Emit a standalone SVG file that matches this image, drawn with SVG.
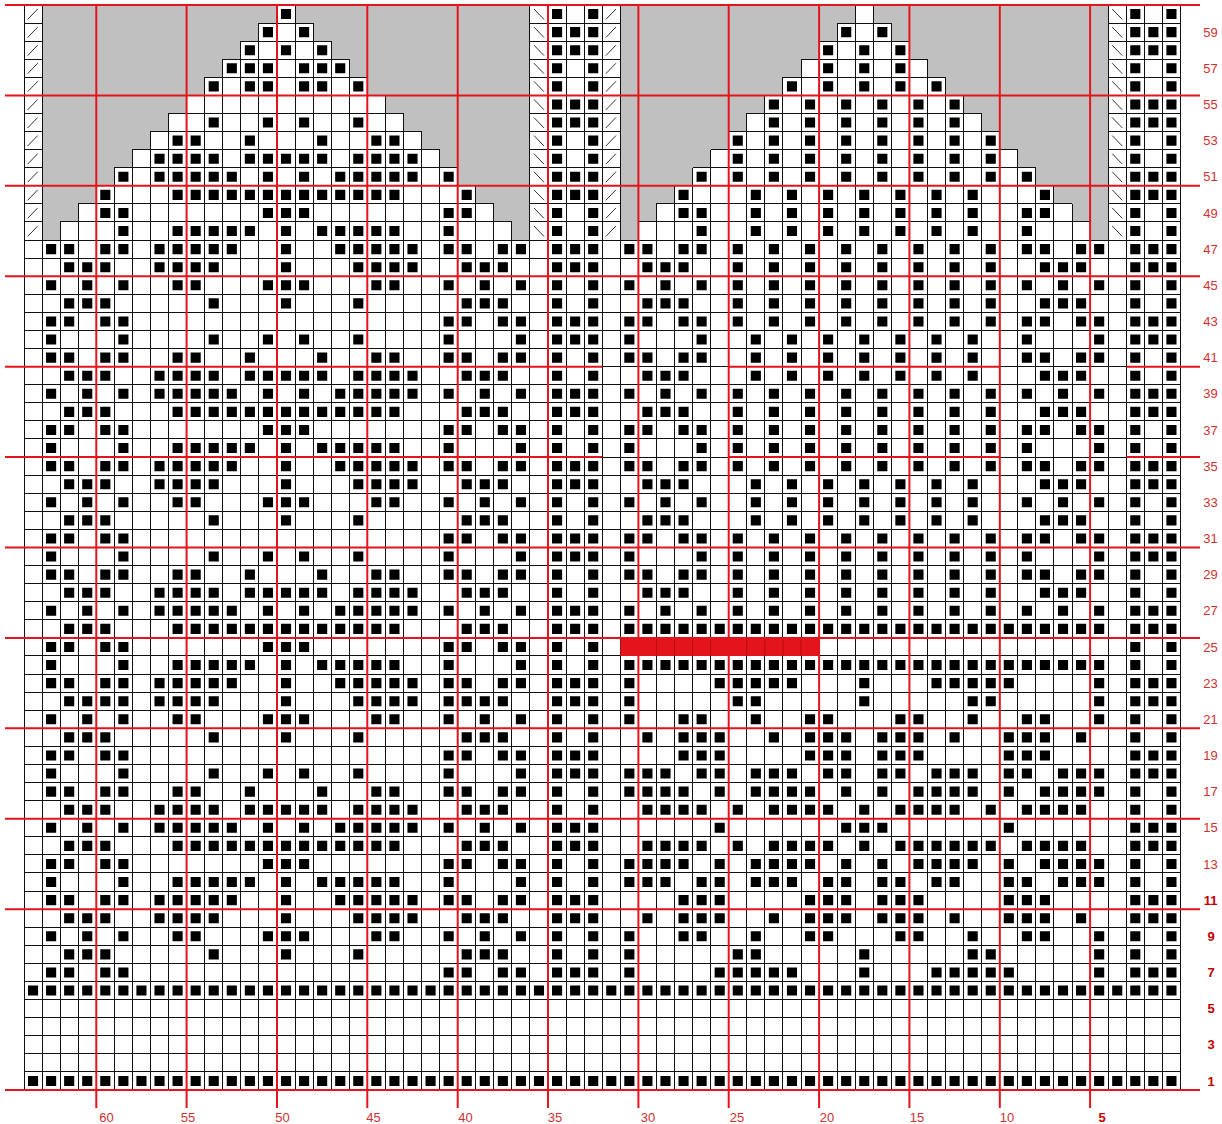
<svg xmlns="http://www.w3.org/2000/svg" width="1222" height="1124" viewBox="0 0 1222 1124">
<style>
.g{fill:none;stroke:#111;stroke-width:1;vector-effect:non-scaling-stroke;shape-rendering:crispEdges}
.gy{fill:#c0c0c0;stroke:#111;stroke-width:1;vector-effect:non-scaling-stroke;shape-rendering:crispEdges}
.b{fill:none;stroke:#000;stroke-width:.56}
.f{fill:none;stroke:#000;stroke-width:.56;stroke-dasharray:.56 .44}
.sl{fill:none;stroke:#333;stroke-width:1;vector-effect:non-scaling-stroke}
.r{stroke:#e3141b;stroke-width:2;fill:none}
.t{font-family:"Liberation Sans",Arial,sans-serif;font-size:13px;fill:#d23030;text-anchor:middle}
.tb{font-weight:bold;fill:#c40000}
</style>
<defs>
<path id="L11" class="b" d="M1.22 .5h.56M2.22 .5h.56M4.22 .5h.56M5.22 .5h.56M7.22 .5h.56M8.22 .5h.56M9.22 .5h.56M10.22 .5h.56M11.22 .5h.56M14.22 .5h.56M17.22 .5h.56M18.22 .5h.56M19.22 .5h.56M20.22 .5h.56M21.22 .5h.56M23.22 .5h.56M24.22 .5h.56M26.22 .5h.56M27.22 .5h.56"/>
<path id="L10" class="b" d="M2.22 .5h.56M3.22 .5h.56M4.22 .5h.56M7.22 .5h.56M8.22 .5h.56M9.22 .5h.56M10.22 .5h.56M14.22 .5h.56M18.22 .5h.56M19.22 .5h.56M20.22 .5h.56M21.22 .5h.56M24.22 .5h.56M25.22 .5h.56M26.22 .5h.56"/>
<path id="L9" class="b" d="M1.22 .5h.56M3.22 .5h.56M5.22 .5h.56M8.22 .5h.56M9.22 .5h.56M13.22 .5h.56M14.22 .5h.56M15.22 .5h.56M19.22 .5h.56M20.22 .5h.56M23.22 .5h.56M25.22 .5h.56M27.22 .5h.56"/>
<path id="L8" class="b" d="M2.22 .5h.56M3.22 .5h.56M4.22 .5h.56M10.22 .5h.56M14.22 .5h.56M18.22 .5h.56M24.22 .5h.56M25.22 .5h.56M26.22 .5h.56"/>
<path id="L7" class="b" d="M1.22 .5h.56M2.22 .5h.56M4.22 .5h.56M5.22 .5h.56M23.22 .5h.56M24.22 .5h.56M26.22 .5h.56M27.22 .5h.56"/>
<path id="L6" class="b" d="M1.22 .5h.56M5.22 .5h.56M10.22 .5h.56M13.22 .5h.56M15.22 .5h.56M18.22 .5h.56M23.22 .5h.56M27.22 .5h.56"/>
<path id="L5" class="b" d="M1.22 .5h.56M2.22 .5h.56M4.22 .5h.56M5.22 .5h.56M8.22 .5h.56M9.22 .5h.56M12.22 .5h.56M16.22 .5h.56M19.22 .5h.56M20.22 .5h.56M23.22 .5h.56M24.22 .5h.56M26.22 .5h.56M27.22 .5h.56"/>
<path id="L4" class="b" d="M2.22 .5h.56M3.22 .5h.56M4.22 .5h.56M7.22 .5h.56M8.22 .5h.56M9.22 .5h.56M10.22 .5h.56M12.22 .5h.56M13.22 .5h.56M14.22 .5h.56M15.22 .5h.56M16.22 .5h.56M18.22 .5h.56M19.22 .5h.56M20.22 .5h.56M21.22 .5h.56M24.22 .5h.56M25.22 .5h.56M26.22 .5h.56"/>
<path id="L3" class="b" d="M1.22 .5h.56M3.22 .5h.56M5.22 .5h.56M7.22 .5h.56M8.22 .5h.56M9.22 .5h.56M10.22 .5h.56M11.22 .5h.56M13.22 .5h.56M15.22 .5h.56M17.22 .5h.56M18.22 .5h.56M19.22 .5h.56M20.22 .5h.56M21.22 .5h.56M23.22 .5h.56M25.22 .5h.56M27.22 .5h.56"/>
<path id="L2" class="b" d="M2.22 .5h.56M3.22 .5h.56M4.22 .5h.56M8.22 .5h.56M9.22 .5h.56M10.22 .5h.56M11.22 .5h.56M12.22 .5h.56M13.22 .5h.56M14.22 .5h.56M15.22 .5h.56M16.22 .5h.56M17.22 .5h.56M18.22 .5h.56M19.22 .5h.56M20.22 .5h.56M24.22 .5h.56M25.22 .5h.56M26.22 .5h.56"/>
<path id="L1" class="b" d="M1.22 .5h.56M2.22 .5h.56M4.22 .5h.56M5.22 .5h.56M13.22 .5h.56M14.22 .5h.56M15.22 .5h.56M23.22 .5h.56M24.22 .5h.56M26.22 .5h.56M27.22 .5h.56"/>
<path id="L0" class="b" d="M1.22 .5h.56M5.22 .5h.56M8.22 .5h.56M9.22 .5h.56M10.22 .5h.56M11.22 .5h.56M12.22 .5h.56M14.22 .5h.56M16.22 .5h.56M17.22 .5h.56M18.22 .5h.56M19.22 .5h.56M20.22 .5h.56M23.22 .5h.56M27.22 .5h.56"/>
<path id="PA" class="b" d="M29.22 .5h.56M30.22 .5h.56M31.22 .5h.56M61.22 .5h.56M62.22 .5h.56M63.22 .5h.56"/>
<path id="PB" class="b" d="M29.22 .5h.56M31.22 .5h.56M61.22 .5h.56M63.22 .5h.56"/>
<path id="RA" class="b" d="M33.22 .5h.56M34.22 .5h.56M36.22 .5h.56M37.22 .5h.56M39.22 .5h.56M41.22 .5h.56M43.22 .5h.56M45.22 .5h.56M47.22 .5h.56M49.22 .5h.56M51.22 .5h.56M53.22 .5h.56M55.22 .5h.56M56.22 .5h.56M58.22 .5h.56M59.22 .5h.56"/>
<path id="RB" class="b" d="M34.22 .5h.56M35.22 .5h.56M36.22 .5h.56M39.22 .5h.56M41.22 .5h.56M43.22 .5h.56M45.22 .5h.56M47.22 .5h.56M49.22 .5h.56M51.22 .5h.56M53.22 .5h.56M56.22 .5h.56M57.22 .5h.56M58.22 .5h.56"/>
<path id="RC" class="b" d="M33.22 .5h.56M35.22 .5h.56M37.22 .5h.56M39.22 .5h.56M41.22 .5h.56M43.22 .5h.56M45.22 .5h.56M47.22 .5h.56M49.22 .5h.56M51.22 .5h.56M53.22 .5h.56M55.22 .5h.56M57.22 .5h.56M59.22 .5h.56"/>
<path id="RD" class="b" d="M33.22 .5h.56M37.22 .5h.56M40.22 .5h.56M42.22 .5h.56M44.22 .5h.56M46.22 .5h.56M48.22 .5h.56M50.22 .5h.56M52.22 .5h.56M55.22 .5h.56M59.22 .5h.56"/>
<path id="RE" class="b" d="M33.22 .5h.56M34.22 .5h.56M36.22 .5h.56M37.22 .5h.56M40.22 .5h.56M42.22 .5h.56M44.22 .5h.56M46.22 .5h.56M48.22 .5h.56M50.22 .5h.56M52.22 .5h.56M55.22 .5h.56M56.22 .5h.56M58.22 .5h.56M59.22 .5h.56"/>
<path id="RF" class="b" d="M34.22 .5h.56M35.22 .5h.56M36.22 .5h.56M40.22 .5h.56M42.22 .5h.56M44.22 .5h.56M46.22 .5h.56M48.22 .5h.56M50.22 .5h.56M52.22 .5h.56M56.22 .5h.56M57.22 .5h.56M58.22 .5h.56"/>
<path id="RG" class="b" d="M33.22 .5h.56M37.22 .5h.56M39.22 .5h.56M41.22 .5h.56M43.22 .5h.56M45.22 .5h.56M47.22 .5h.56M49.22 .5h.56M51.22 .5h.56M53.22 .5h.56M55.22 .5h.56M59.22 .5h.56"/>
<path id="RH" class="b" d="M33.22 .5h.56M35.22 .5h.56M37.22 .5h.56M40.22 .5h.56M42.22 .5h.56M44.22 .5h.56M46.22 .5h.56M48.22 .5h.56M50.22 .5h.56M52.22 .5h.56M55.22 .5h.56M57.22 .5h.56M59.22 .5h.56"/>
<path id="S7" class="b" d="M33.22 .5h.56M38.22 .5h.56M39.22 .5h.56M40.22 .5h.56M41.22 .5h.56M42.22 .5h.56M46.22 .5h.56M50.22 .5h.56M51.22 .5h.56M52.22 .5h.56M53.22 .5h.56M54.22 .5h.56M59.22 .5h.56"/>
<path id="S8" class="b" d="M33.22 .5h.56M39.22 .5h.56M40.22 .5h.56M46.22 .5h.56M52.22 .5h.56M53.22 .5h.56M59.22 .5h.56"/>
<path id="S9" class="b" d="M33.22 .5h.56M36.22 .5h.56M37.22 .5h.56M40.22 .5h.56M43.22 .5h.56M44.22 .5h.56M48.22 .5h.56M49.22 .5h.56M52.22 .5h.56M55.22 .5h.56M56.22 .5h.56M59.22 .5h.56"/>
<path id="S10" class="b" d="M34.22 .5h.56M36.22 .5h.56M37.22 .5h.56M38.22 .5h.56M41.22 .5h.56M43.22 .5h.56M44.22 .5h.56M45.22 .5h.56M47.22 .5h.56M48.22 .5h.56M49.22 .5h.56M51.22 .5h.56M54.22 .5h.56M55.22 .5h.56M56.22 .5h.56M58.22 .5h.56"/>
<path id="S11" class="b" d="M36.22 .5h.56M37.22 .5h.56M38.22 .5h.56M43.22 .5h.56M44.22 .5h.56M45.22 .5h.56M47.22 .5h.56M48.22 .5h.56M49.22 .5h.56M54.22 .5h.56M55.22 .5h.56M56.22 .5h.56"/>
<path id="S12" class="b" d="M33.22 .5h.56M34.22 .5h.56M35.22 .5h.56M37.22 .5h.56M38.22 .5h.56M40.22 .5h.56M41.22 .5h.56M42.22 .5h.56M44.22 .5h.56M45.22 .5h.56M47.22 .5h.56M48.22 .5h.56M50.22 .5h.56M51.22 .5h.56M54.22 .5h.56M55.22 .5h.56M57.22 .5h.56M58.22 .5h.56M59.22 .5h.56"/>
<path id="S13" class="b" d="M33.22 .5h.56M34.22 .5h.56M35.22 .5h.56M36.22 .5h.56M38.22 .5h.56M40.22 .5h.56M41.22 .5h.56M42.22 .5h.56M43.22 .5h.56M45.22 .5h.56M47.22 .5h.56M49.22 .5h.56M50.22 .5h.56M51.22 .5h.56M52.22 .5h.56M54.22 .5h.56M56.22 .5h.56M57.22 .5h.56M58.22 .5h.56M59.22 .5h.56"/>
<path id="S14" class="b" d="M34.22 .5h.56M35.22 .5h.56M36.22 .5h.56M37.22 .5h.56M39.22 .5h.56M41.22 .5h.56M42.22 .5h.56M43.22 .5h.56M44.22 .5h.56M46.22 .5h.56M48.22 .5h.56M49.22 .5h.56M50.22 .5h.56M51.22 .5h.56M52.22 .5h.56M53.22 .5h.56M55.22 .5h.56M56.22 .5h.56M57.22 .5h.56M58.22 .5h.56"/>
<path id="S15" class="b" d="M38.22 .5h.56M45.22 .5h.56M46.22 .5h.56M47.22 .5h.56M54.22 .5h.56"/>
<path id="S16" class="b" d="M34.22 .5h.56M35.22 .5h.56M36.22 .5h.56M37.22 .5h.56M39.22 .5h.56M41.22 .5h.56M42.22 .5h.56M43.22 .5h.56M44.22 .5h.56M46.22 .5h.56M48.22 .5h.56M49.22 .5h.56M50.22 .5h.56M51.22 .5h.56M53.22 .5h.56M55.22 .5h.56M56.22 .5h.56M57.22 .5h.56M58.22 .5h.56"/>
<path id="S18" class="b" d="M33.22 .5h.56M34.22 .5h.56M35.22 .5h.56M37.22 .5h.56M38.22 .5h.56M40.22 .5h.56M41.22 .5h.56M42.22 .5h.56M44.22 .5h.56M45.22 .5h.56M47.22 .5h.56M48.22 .5h.56M50.22 .5h.56M51.22 .5h.56M52.22 .5h.56M54.22 .5h.56M55.22 .5h.56M57.22 .5h.56M58.22 .5h.56M59.22 .5h.56"/>
<path id="fs" class="sl" d="M.2 .8l.56-.58M.2 1.8l.56-.58M.2 2.8l.56-.58M.2 3.8l.56-.58M.2 4.8l.56-.58M.2 5.8l.56-.58M.2 6.8l.56-.58M.2 7.8l.56-.58M.2 8.8l.56-.58M.2 9.8l.56-.58M.2 10.8l.56-.58M.2 11.8l.56-.58M.2 12.8l.56-.58"/>
<path id="bs" class="sl" d="M.22 .22l.56.58M.22 1.22l.56.58M.22 2.22l.56.58M.22 3.22l.56.58M.22 4.22l.56.58M.22 5.22l.56.58M.22 6.22l.56.58M.22 7.22l.56.58M.22 8.22l.56.58M.22 9.22l.56.58M.22 10.22l.56.58M.22 11.22l.56.58M.22 12.22l.56.58"/>
</defs>
<rect width="1222" height="1124" fill="#fff"/>
<g id="chart" transform="translate(24 5) scale(18.07 18.083)">
<path id="grid" class="g" d="M0 0v60M1 0v60M2 0v60M3 0v60M4 0v60M5 0v60M6 0v60M7 0v60M8 0v60M9 0v60M10 0v60M11 0v60M12 0v60M13 0v60M14 0v60M15 0v60M16 0v60M17 0v60M18 0v60M19 0v60M20 0v60M21 0v60M22 0v60M23 0v60M24 0v60M25 0v60M26 0v60M27 0v60M28 0v60M29 0v60M30 0v60M31 0v60M32 0v60M33 0v60M34 0v60M35 0v60M36 0v60M37 0v60M38 0v60M39 0v60M40 0v60M41 0v60M42 0v60M43 0v60M44 0v60M45 0v60M46 0v60M47 0v60M48 0v60M49 0v60M50 0v60M51 0v60M52 0v60M53 0v60M54 0v60M55 0v60M56 0v60M57 0v60M58 0v60M59 0v60M60 0v60M61 0v60M62 0v60M63 0v60M64 0v60M0 0h64M0 1h64M0 2h64M0 3h64M0 4h64M0 5h64M0 6h64M0 7h64M0 8h64M0 9h64M0 10h64M0 11h64M0 12h64M0 13h64M0 14h64M0 15h64M0 16h64M0 17h64M0 18h64M0 19h64M0 20h64M0 21h64M0 22h64M0 23h64M0 24h64M0 25h64M0 26h64M0 27h64M0 28h64M0 29h64M0 30h64M0 31h64M0 32h64M0 33h64M0 34h64M0 35h64M0 36h64M0 37h64M0 38h64M0 39h64M0 40h64M0 41h64M0 42h64M0 43h64M0 44h64M0 45h64M0 46h64M0 47h64M0 48h64M0 49h64M0 50h64M0 51h64M0 52h64M0 53h64M0 54h64M0 55h64M0 56h64M0 57h64M0 58h64M0 59h64M0 60h64"/>
<g id="no-stitch">
<polygon class="gy" points="1,0 14,0 14,1 13,1 13,2 12,2 12,3 11,3 11,4 10,4 10,5 9,5 9,6 8,6 8,7 7,7 7,8 6,8 6,9 5,9 5,10 4,10 4,11 3,11 3,12 2,12 2,13 1,13"/>
<polygon class="gy" points="15,0 28,0 28,13 27,13 27,12 26,12 26,11 25,11 25,10 24,10 24,9 23,9 23,8 22,8 22,7 21,7 21,6 20,6 20,5 19,5 19,4 18,4 18,3 17,3 17,2 16,2 16,1 15,1"/>
<polygon class="gy" points="33,0 46,0 46,1 45,1 45,2 44,2 44,3 43,3 43,4 42,4 42,5 41,5 41,6 40,6 40,7 39,7 39,8 38,8 38,9 37,9 37,10 36,10 36,11 35,11 35,12 34,12 34,13 33,13"/>
<polygon class="gy" points="47,0 60,0 60,13 59,13 59,12 58,12 58,11 57,11 57,10 56,10 56,9 55,9 55,8 54,8 54,7 53,7 53,6 52,6 52,5 51,5 51,4 50,4 50,3 49,3 49,2 48,2 48,1 47,1"/>
</g>
<g id="red-row">
<rect x="33" y="35" width="11" height="1" fill="#e3141b"/>
<path d="M34 35v1M35 35v1M36 35v1M37 35v1M38 35v1M40 35v1M41 35v1M42 35v1M43 35v1" stroke="#8a0000" stroke-opacity=".45" stroke-width="1" vector-effect="non-scaling-stroke" fill="none"/>
</g>
<g id="slashes">
<use href="#fs"/><use href="#fs" x="32"/><use href="#bs" x="28"/><use href="#bs" x="60"/>
</g>
<g id="stitches">
<path class="b" d="M14.22 .5h.56M29.22 .5h.56M31.22 .5h.56M61.22 .5h.56M63.22 .5h.56"/>
<path class="b" transform="translate(0 1)" d="M13.22 .5h.56M15.22 .5h.56M29.22 .5h.56M30.22 .5h.56M31.22 .5h.56M45.22 .5h.56M47.22 .5h.56M61.22 .5h.56M62.22 .5h.56M63.22 .5h.56"/>
<path class="b" transform="translate(0 2)" d="M12.22 .5h.56M14.22 .5h.56M16.22 .5h.56M29.22 .5h.56M30.22 .5h.56M31.22 .5h.56M44.22 .5h.56M46.22 .5h.56M48.22 .5h.56M61.22 .5h.56M62.22 .5h.56M63.22 .5h.56"/>
<path class="b" transform="translate(0 3)" d="M11.22 .5h.56M12.22 .5h.56M13.22 .5h.56M15.22 .5h.56M16.22 .5h.56M17.22 .5h.56M29.22 .5h.56M31.22 .5h.56M44.22 .5h.56M46.22 .5h.56M48.22 .5h.56M61.22 .5h.56M63.22 .5h.56"/>
<path class="b" transform="translate(0 4)" d="M10.22 .5h.56M12.22 .5h.56M13.22 .5h.56M15.22 .5h.56M16.22 .5h.56M18.22 .5h.56M29.22 .5h.56M31.22 .5h.56M42.22 .5h.56M44.22 .5h.56M46.22 .5h.56M48.22 .5h.56M50.22 .5h.56M61.22 .5h.56M63.22 .5h.56"/>
<path class="b" transform="translate(0 5)" d="M29.22 .5h.56M30.22 .5h.56M31.22 .5h.56M41.22 .5h.56M43.22 .5h.56M45.22 .5h.56M47.22 .5h.56M49.22 .5h.56M51.22 .5h.56M61.22 .5h.56M62.22 .5h.56M63.22 .5h.56"/>
<path class="b" transform="translate(0 6)" d="M10.22 .5h.56M13.22 .5h.56M15.22 .5h.56M18.22 .5h.56M29.22 .5h.56M30.22 .5h.56M31.22 .5h.56M41.22 .5h.56M43.22 .5h.56M45.22 .5h.56M47.22 .5h.56M49.22 .5h.56M51.22 .5h.56M61.22 .5h.56M62.22 .5h.56M63.22 .5h.56"/>
<path class="b" transform="translate(0 7)" d="M8.22 .5h.56M9.22 .5h.56M12.22 .5h.56M16.22 .5h.56M19.22 .5h.56M20.22 .5h.56M29.22 .5h.56M31.22 .5h.56M39.22 .5h.56M41.22 .5h.56M43.22 .5h.56M45.22 .5h.56M47.22 .5h.56M49.22 .5h.56M51.22 .5h.56M53.22 .5h.56M61.22 .5h.56M63.22 .5h.56"/>
<path class="b" transform="translate(0 8)" d="M7.22 .5h.56M8.22 .5h.56M9.22 .5h.56M10.22 .5h.56M12.22 .5h.56M13.22 .5h.56M14.22 .5h.56M15.22 .5h.56M16.22 .5h.56M18.22 .5h.56M19.22 .5h.56M20.22 .5h.56M21.22 .5h.56M29.22 .5h.56M31.22 .5h.56M39.22 .5h.56M41.22 .5h.56M43.22 .5h.56M45.22 .5h.56M47.22 .5h.56M49.22 .5h.56M51.22 .5h.56M53.22 .5h.56M61.22 .5h.56M63.22 .5h.56"/>
<path class="b" transform="translate(0 9)" d="M5.22 .5h.56M7.22 .5h.56M8.22 .5h.56M9.22 .5h.56M10.22 .5h.56M11.22 .5h.56M13.22 .5h.56M15.22 .5h.56M17.22 .5h.56M18.22 .5h.56M19.22 .5h.56M20.22 .5h.56M21.22 .5h.56M23.22 .5h.56M29.22 .5h.56M30.22 .5h.56M31.22 .5h.56M37.22 .5h.56M39.22 .5h.56M41.22 .5h.56M43.22 .5h.56M45.22 .5h.56M47.22 .5h.56M49.22 .5h.56M51.22 .5h.56M53.22 .5h.56M55.22 .5h.56M61.22 .5h.56M62.22 .5h.56M63.22 .5h.56"/>
<path class="b" transform="translate(0 10)" d="M4.22 .5h.56M8.22 .5h.56M9.22 .5h.56M10.22 .5h.56M11.22 .5h.56M12.22 .5h.56M13.22 .5h.56M14.22 .5h.56M15.22 .5h.56M16.22 .5h.56M17.22 .5h.56M18.22 .5h.56M19.22 .5h.56M20.22 .5h.56M24.22 .5h.56M29.22 .5h.56M30.22 .5h.56M31.22 .5h.56M36.22 .5h.56M40.22 .5h.56M42.22 .5h.56M44.22 .5h.56M46.22 .5h.56M48.22 .5h.56M50.22 .5h.56M52.22 .5h.56M56.22 .5h.56M61.22 .5h.56M62.22 .5h.56M63.22 .5h.56"/>
<path class="b" transform="translate(0 11)" d="M4.22 .5h.56M5.22 .5h.56M13.22 .5h.56M14.22 .5h.56M15.22 .5h.56M23.22 .5h.56M24.22 .5h.56M29.22 .5h.56M31.22 .5h.56M36.22 .5h.56M37.22 .5h.56M40.22 .5h.56M42.22 .5h.56M44.22 .5h.56M46.22 .5h.56M48.22 .5h.56M50.22 .5h.56M52.22 .5h.56M55.22 .5h.56M56.22 .5h.56M61.22 .5h.56M63.22 .5h.56"/>
<path class="b" transform="translate(0 12)" d="M5.22 .5h.56M8.22 .5h.56M9.22 .5h.56M10.22 .5h.56M11.22 .5h.56M12.22 .5h.56M14.22 .5h.56M16.22 .5h.56M17.22 .5h.56M18.22 .5h.56M19.22 .5h.56M20.22 .5h.56M23.22 .5h.56M29.22 .5h.56M31.22 .5h.56M37.22 .5h.56M40.22 .5h.56M42.22 .5h.56M44.22 .5h.56M46.22 .5h.56M48.22 .5h.56M50.22 .5h.56M52.22 .5h.56M55.22 .5h.56M61.22 .5h.56M63.22 .5h.56"/>
<use href="#L11" y="13"/><use href="#PA" y="13"/><use href="#RA" y="13"/>
<use href="#L10" y="14"/><use href="#PA" y="14"/><use href="#RB" y="14"/>
<use href="#L9" y="15"/><use href="#PB" y="15"/><use href="#RC" y="15"/>
<use href="#L8" y="16"/><use href="#PB" y="16"/><use href="#RB" y="16"/>
<use href="#L7" y="17"/><use href="#PA" y="17"/><use href="#RA" y="17"/>
<use href="#L6" y="18"/><use href="#PA" y="18"/><use href="#RD" y="18"/>
<use href="#L5" y="19"/><use href="#PB" y="19"/><use href="#RE" y="19"/>
<use href="#L4" y="20"/><use href="#PB" y="20"/><use href="#RF" y="20"/>
<use href="#L3" y="21"/><use href="#PA" y="21"/><use href="#RC" y="21"/>
<use href="#L2" y="22"/><use href="#PA" y="22"/><use href="#RB" y="22"/>
<use href="#L1" y="23"/><use href="#PB" y="23"/><use href="#RA" y="23"/>
<use href="#L0" y="24"/><use href="#PB" y="24"/><use href="#RG" y="24"/>
<use href="#L11" y="25"/><use href="#PA" y="25"/><use href="#RA" y="25"/>
<use href="#L10" y="26"/><use href="#PA" y="26"/><use href="#RF" y="26"/>
<use href="#L9" y="27"/><use href="#PB" y="27"/><use href="#RH" y="27"/>
<use href="#L8" y="28"/><use href="#PB" y="28"/><use href="#RF" y="28"/>
<use href="#L7" y="29"/><use href="#PA" y="29"/><use href="#RA" y="29"/>
<use href="#L6" y="30"/><use href="#PA" y="30"/><use href="#RG" y="30"/>
<use href="#L5" y="31"/><use href="#PB" y="31"/><use href="#RA" y="31"/>
<use href="#L4" y="32"/><use href="#PB" y="32"/><use href="#RB" y="32"/>
<use href="#L3" y="33"/><use href="#PA" y="33"/><use href="#RC" y="33"/>
<use href="#L2" y="34"/><use href="#PA" y="34"/><path class="f" transform="translate(0 34)" d="M33.22 .5h26.56"/>
<use href="#L1" y="35"/><use href="#PB" y="35"/>
<use href="#L0" y="36"/><use href="#PB" y="36"/><path class="f" transform="translate(0 36)" d="M33.22 .5h26.56"/>
<use href="#L11" y="37"/><use href="#PA" y="37"/><use href="#S7" y="37"/>
<use href="#L10" y="38"/><use href="#PA" y="38"/><use href="#S8" y="38"/><path class="b" transform="translate(0 38)" d="M5.22 .5h.56M23.22 .5h.56"/>
<use href="#L9" y="39"/><use href="#PB" y="39"/><use href="#S9" y="39"/>
<use href="#L8" y="40"/><use href="#PB" y="40"/><use href="#S10" y="40"/>
<use href="#L7" y="41"/><use href="#PA" y="41"/><use href="#S11" y="41"/>
<use href="#L6" y="42"/><use href="#PA" y="42"/><use href="#S18" y="42"/>
<use href="#L5" y="43"/><use href="#PB" y="43"/><use href="#S13" y="43"/>
<use href="#L4" y="44"/><use href="#PB" y="44"/><use href="#S16" y="44"/>
<use href="#L3" y="45"/><use href="#PA" y="45"/><use href="#S15" y="45"/>
<use href="#L2" y="46"/><use href="#PA" y="46"/><use href="#S14" y="46"/>
<use href="#L1" y="47"/><use href="#PB" y="47"/><use href="#S13" y="47"/>
<use href="#L0" y="48"/><use href="#PB" y="48"/><use href="#S12" y="48"/>
<use href="#L11" y="49"/><use href="#PA" y="49"/><use href="#S11" y="49"/>
<use href="#L10" y="50"/><use href="#PA" y="50"/><use href="#S10" y="50"/>
<use href="#L9" y="51"/><use href="#PB" y="51"/><use href="#S9" y="51"/>
<use href="#L8" y="52"/><use href="#PB" y="52"/><use href="#S8" y="52"/>
<use href="#L7" y="53"/><use href="#PA" y="53"/><use href="#S7" y="53"/>
<path class="f" transform="translate(0 54)" d="M.22 .5h63.56"/>
<path class="f" transform="translate(0 59)" d="M.22 .5h63.56"/>
</g>
</g>
<g id="red-lines" class="r">
<path d="M96.3 5V1108M186.6 5V1108M277 5V1108M367.3 5V1108M457.7 5V1108M548 5V1108M638.4 5V1108M728.7 5V1108M819.1 5V1108M909.4 5V1108M999.8 5V1108M1090.1 5V1108"/>
<path d="M5 5H1200M5 95.4H1200M5 185.8H1200M5 276.2H1200M5 547.5H1200M5 637.9H1200M5 728.3H1200M5 818.7H1200M5 909.2H1200M5 1090H1200"/>
<path d="M5 366.7H602.2M728.7 366.7H999.8M1126.3 366.7H1200M5 457.1H602.2M728.7 457.1H999.8M1126.3 457.1H1200"/>
</g>
<g id="row-labels" class="t">
<text x="1210.5" y="36.7">59</text>
<text x="1210.5" y="72.9">57</text>
<text x="1210.5" y="109.1">55</text>
<text x="1210.5" y="145.2">53</text>
<text x="1210.5" y="181.4">51</text>
<text x="1210.5" y="217.6">49</text>
<text x="1210.5" y="253.7">47</text>
<text x="1210.5" y="289.9">45</text>
<text x="1210.5" y="326.1">43</text>
<text x="1210.5" y="362.2">41</text>
<text x="1210.5" y="398.4">39</text>
<text x="1210.5" y="434.6">37</text>
<text x="1210.5" y="470.7">35</text>
<text x="1210.5" y="506.9">33</text>
<text x="1210.5" y="543.1">31</text>
<text x="1210.5" y="579.2">29</text>
<text x="1210.5" y="615.4">27</text>
<text x="1210.5" y="651.6">25</text>
<text x="1210.5" y="687.7">23</text>
<text x="1210.5" y="723.9">21</text>
<text x="1210.5" y="760.1">19</text>
<text x="1210.5" y="796.2">17</text>
<text x="1210.5" y="832.4">15</text>
<text x="1210.5" y="868.6">13</text>
<text class="tb" x="1210.5" y="904.7">11</text>
<text class="tb" x="1211" y="940.9">9</text>
<text class="tb" x="1211" y="977.1">7</text>
<text class="tb" x="1211" y="1013.2">5</text>
<text class="tb" x="1211" y="1049.4">3</text>
<text class="tb" x="1211" y="1085.6">1</text>
</g>
<g id="column-labels" class="t">
<text x="106.5" y="1121.5">60</text>
<text x="188" y="1121.5">55</text>
<text x="282.5" y="1121.5">50</text>
<text x="373.5" y="1121.5">45</text>
<text x="465.5" y="1121.5">40</text>
<text x="555" y="1121.5">35</text>
<text x="648" y="1121.5">30</text>
<text x="737" y="1121.5">25</text>
<text x="827" y="1121.5">20</text>
<text x="917" y="1121.5">15</text>
<text x="1007" y="1121.5">10</text>
<text class="tb" x="1102" y="1121.5">5</text>
</g>
</svg>
